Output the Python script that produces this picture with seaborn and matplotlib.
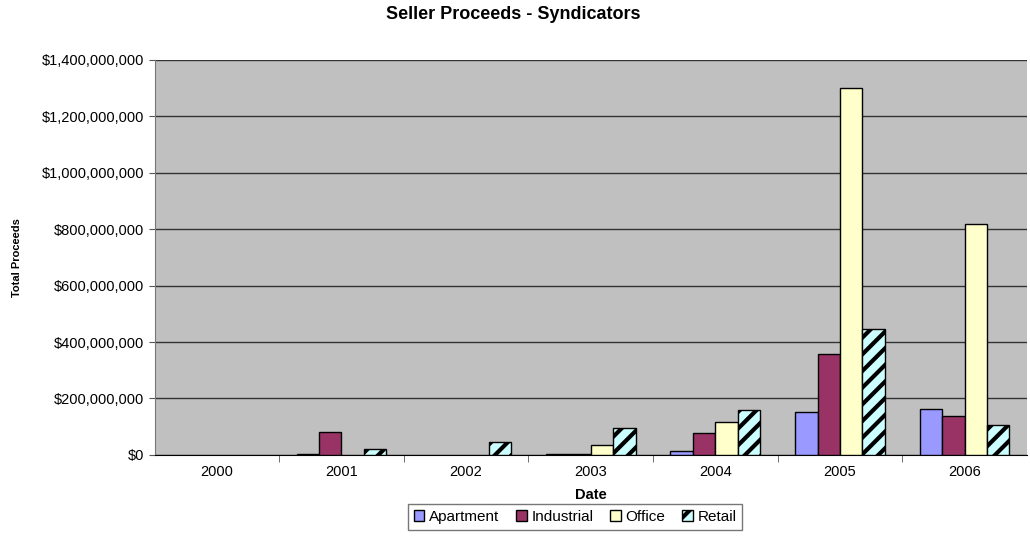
import pandas as pd
import seaborn as sns
import matplotlib.pyplot as plt
from matplotlib.ticker import FuncFormatter, FixedLocator

years = ['2000', '2001', '2002', '2003', '2004', '2005', '2006']
apartment = [0, 5e6, 0, 2e6, 13e6, 152e6, 162e6]
industrial = [0, 81e6, 0, 5e6, 77e6, 358e6, 138e6]
office = [0, 0, 0, 34e6, 118e6, 1301e6, 819e6]
retail = [0, 21e6, 47e6, 95e6, 160e6, 447e6, 105e6]

series = ['Apartment', 'Industrial', 'Office', 'Retail']
colores = ['#9999FF', '#993366', '#FFFFCC', '#CCFFFF']

# tabla larga para seaborn
df = pd.DataFrame({'Date': years, 'Apartment': apartment, 'Industrial': industrial,
                   'Office': office, 'Retail': retail})
df_long = df.melt(id_vars=['Date'], var_name='Type', value_name='Proceeds')

plt.rcParams['font.family'] = ['Liberation Sans', 'DejaVu Sans']
plt.rcParams['hatch.linewidth'] = 3.0
plt.rcParams['hatch.color'] = 'black'

fig = plt.figure(figsize=(10.30, 5.39), dpi=100)
ax = fig.add_axes([0.150, 0.156, 0.847, 0.733])
ax.set_facecolor('#C0C0C0')

sns.barplot(data=df_long, x='Date', y='Proceeds', hue='Type', hue_order=series,
            palette=colores, width=0.72, gap=0, edgecolor='black', linewidth=1.0,
            saturation=1, ax=ax, zorder=3)

# trama diagonal para Retail, y sin borde en barras vacias
for i, cont in enumerate(ax.containers):
    for p in cont:
        if i == 3:
            p.set_hatch('//')
        if p.get_height() == 0:
            p.set_visible(False)

ax.set_ylim(0, 1.4e9)
ax.set_xlim(-0.5, 6.5)
ax.yaxis.set_major_locator(FixedLocator([i * 2e8 for i in range(8)]))
ax.yaxis.set_major_formatter(FuncFormatter(lambda v, pos: f'${v:,.0f}'))
ax.grid(axis='y', color='#333333', linewidth=1.0, zorder=0)
ax.set_axisbelow(True)

# marcas del eje x entre categorias
ax.set_xticks([i + 0.5 for i in range(6)], minor=True)
ax.tick_params(axis='x', which='major', length=0, labelsize=10.5, pad=7)
ax.tick_params(axis='x', which='minor', length=5, color='#555555')
ax.tick_params(axis='y', labelsize=10.5, length=4, color='#555555')

for s in ['top', 'right']:
    ax.spines[s].set_visible(False)
ax.spines['left'].set_color('#777777')
ax.spines['bottom'].set_color('black')

fig.suptitle('Seller Proceeds - Syndicators', x=513 / 1030, y=1 - 6 / 539,
             fontsize=13, fontweight='bold', va='top')
ax.set_xlabel('Date', fontsize=10.5, fontweight='bold', labelpad=7)
ax.set_ylabel('Total Proceeds', fontsize=8, fontweight='bold', labelpad=14)

ax.get_legend().remove()
handles = [plt.Rectangle((0, 0), 1, 1, facecolor=c, edgecolor='black', linewidth=1.0,
                         hatch='//' if n == 'Retail' else None)
           for n, c in zip(series, colores)]
fig.legend(handles, series, loc='center', bbox_to_anchor=(575 / 1030, 1 - 517 / 539),
           ncol=4, fontsize=11, frameon=True, fancybox=False, edgecolor='#555555',
           handlelength=0.7, handleheight=0.7, handletextpad=0.3, columnspacing=1.1,
           borderpad=0.4)

plt.savefig('out.png', dpi=100)
